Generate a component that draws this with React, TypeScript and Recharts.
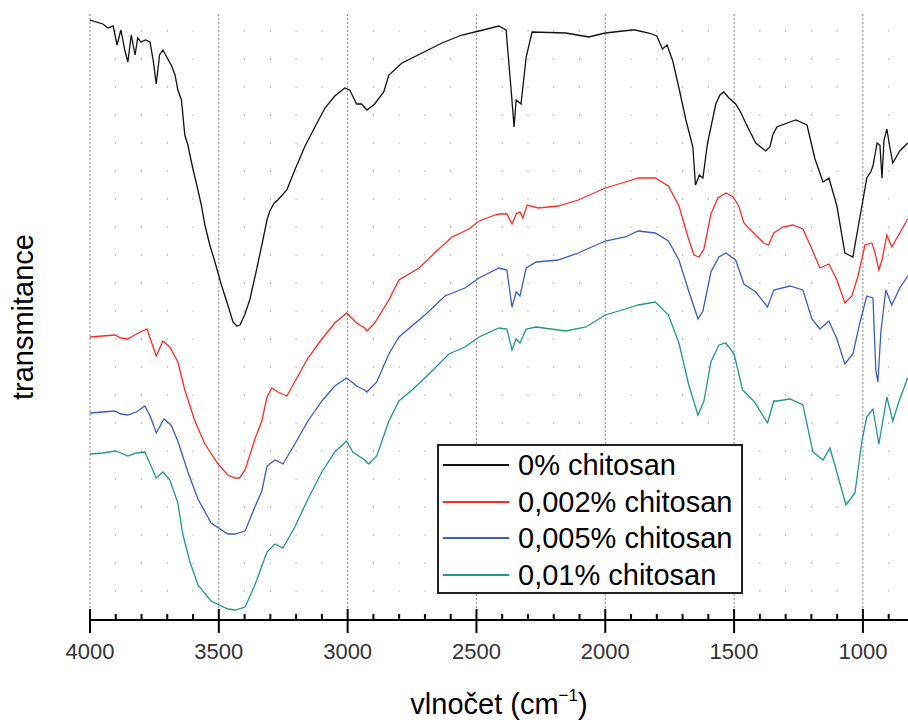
import { LineChart, Line, XAxis, YAxis, ReferenceLine } from "recharts";

// wavenumbers (cm-1) and relative transmittance (a.u.) per sample
const wn0 = [4000, 3950, 3930, 3910, 3895, 3880, 3865, 3853, 3840, 3825, 3815, 3802, 3785, 3767, 3755, 3743, 3730, 3717, 3700, 3683, 3670, 3659, 3645, 3632, 3620, 3608, 3595, 3581, 3568, 3554, 3535, 3515, 3490, 3465, 3445, 3430, 3418, 3400, 3380, 3352, 3333, 3313, 3302, 3285, 3271, 3236, 3205, 3167, 3127, 3088, 3050, 3011, 2992, 2965, 2946, 2925, 2895, 2860, 2840, 2789, 2711, 2634, 2556, 2490, 2413, 2385, 2366, 2354, 2346, 2327, 2307, 2284, 2153, 2064, 2000, 1897, 1884, 1831, 1800, 1778, 1760, 1738, 1714, 1687, 1660, 1650, 1645, 1635, 1621, 1603, 1571, 1555, 1540, 1520, 1494, 1475, 1455, 1416, 1377, 1361, 1350, 1334, 1283, 1260, 1217, 1186, 1155, 1132, 1101, 1070, 1055, 1039, 1004, 985, 970, 961, 945, 934, 926, 918, 907, 897, 884, 857, 826];
const t0 = [600, 596, 592, 594, 575, 590, 570, 558, 585, 565, 582, 578, 580, 578, 560, 536, 565, 570, 562, 554, 545, 530, 520, 485, 475, 460, 445, 430, 415, 395, 375, 358, 335, 315, 298, 294, 295, 305, 320, 352, 375, 400, 409, 417, 420, 430, 450, 473, 493, 512, 524, 532, 530, 516, 516, 510, 516, 528, 545, 557, 567, 577, 585, 589, 594, 590, 532, 493, 520, 516, 563, 588, 587, 583, 587, 590, 590, 587, 584, 571, 575, 559, 532, 500, 473, 435, 438, 445, 442, 477, 516, 525, 528, 522, 516, 508, 497, 477, 469, 473, 485, 493, 498, 500, 495, 461, 438, 442, 414, 367, 365, 363, 414, 442, 448, 454, 477, 475, 442, 480, 491, 475, 457, 469, 477];

const wn1 = [4000, 3950, 3903, 3880, 3853, 3820, 3779, 3763, 3743, 3717, 3690, 3659, 3632, 3593, 3554, 3503, 3465, 3437, 3420, 3398, 3360, 3333, 3313, 3294, 3271, 3236, 3197, 3154, 3100, 3050, 3004, 2965, 2934, 2925, 2895, 2840, 2801, 2723, 2646, 2595, 2529, 2490, 2428, 2413, 2382, 2362, 2346, 2331, 2320, 2303, 2260, 2183, 2105, 2000, 1922, 1872, 1806, 1755, 1714, 1679, 1656, 1636, 1617, 1590, 1563, 1532, 1504, 1482, 1462, 1424, 1385, 1366, 1346, 1311, 1272, 1233, 1198, 1167, 1132, 1101, 1070, 1043, 1019, 992, 965, 953, 938, 926, 907, 888, 857, 826];
const t1 = [283, 284, 285, 282, 281, 286, 291, 279, 264, 279, 273, 258, 230, 199, 176, 156, 145, 142, 142, 150, 181, 199, 223, 232, 228, 224, 242, 262, 281, 297, 307, 297, 292, 289, 297, 320, 340, 352, 371, 383, 391, 399, 405, 406, 406, 396, 406, 408, 402, 415, 412, 414, 420, 432, 438, 442, 442, 434, 414, 383, 365, 363, 371, 406, 422, 427, 423, 414, 397, 387, 377, 375, 387, 393, 395, 391, 371, 352, 356, 340, 317, 324, 344, 375, 377, 367, 350, 360, 385, 373, 387, 401];

const wn2 = [4000, 3950, 3903, 3880, 3853, 3820, 3787, 3765, 3743, 3713, 3686, 3659, 3620, 3581, 3530, 3465, 3437, 3398, 3360, 3333, 3313, 3282, 3251, 3205, 3154, 3100, 3050, 3004, 2965, 2934, 2925, 2887, 2840, 2801, 2700, 2622, 2545, 2490, 2413, 2382, 2362, 2346, 2331, 2307, 2268, 2183, 2105, 2000, 1922, 1872, 1806, 1755, 1714, 1675, 1640, 1621, 1590, 1559, 1532, 1494, 1462, 1416, 1370, 1346, 1283, 1233, 1198, 1167, 1132, 1101, 1070, 1039, 1012, 985, 961, 950, 942, 930, 911, 888, 857, 826];
const t2 = [207, 208, 209, 206, 205, 208, 214, 203, 187, 201, 195, 179, 148, 121, 97, 86, 86, 89, 113, 129, 154, 160, 156, 176, 199, 219, 234, 242, 234, 230, 228, 238, 266, 283, 305, 324, 332, 342, 352, 350, 313, 328, 324, 352, 358, 360, 367, 379, 383, 389, 387, 379, 360, 328, 301, 309, 348, 363, 367, 360, 336, 328, 313, 330, 334, 330, 301, 291, 299, 281, 256, 266, 297, 324, 322, 250, 238, 289, 330, 315, 332, 344];

const wn3 = [4000, 3950, 3903, 3880, 3853, 3820, 3787, 3763, 3743, 3717, 3690, 3659, 3640, 3612, 3581, 3530, 3465, 3437, 3398, 3360, 3333, 3313, 3282, 3251, 3205, 3154, 3100, 3050, 3004, 2980, 2934, 2918, 2887, 2840, 2801, 2750, 2684, 2607, 2545, 2490, 2413, 2382, 2362, 2346, 2331, 2307, 2268, 2153, 2075, 2000, 1922, 1872, 1806, 1755, 1714, 1675, 1640, 1617, 1590, 1559, 1532, 1500, 1467, 1424, 1370, 1346, 1334, 1283, 1233, 1194, 1155, 1128, 1097, 1066, 1031, 1004, 985, 961, 938, 907, 884, 857, 826];
const t3 = [166, 167, 169, 167, 164, 167, 168, 154, 142, 148, 140, 117, 86, 58, 35, 19, 11, 10, 13, 35, 54, 68, 76, 72, 93, 121, 148, 168, 179, 168, 160, 156, 164, 199, 219, 230, 246, 266, 273, 283, 292, 291, 270, 281, 277, 291, 293, 289, 293, 305, 311, 315, 318, 305, 277, 234, 205, 219, 258, 275, 277, 266, 230, 219, 197, 219, 219, 221, 215, 168, 160, 172, 144, 115, 127, 179, 203, 211, 176, 223, 199, 221, 242];

const seriesNames = ["0% chitosan", "0,002% chitosan", "0,005% chitosan", "0,01% chitosan"];
const seriesColors = ["#111111", "#ff2b2b", "#3b5cc2", "#1f978a"];
const majorTicks = [4000, 3500, 3000, 2500, 2000, 1500, 1000];
const allTicks = [4000, 3900, 3800, 3700, 3600, 3500, 3400, 3300, 3200, 3100, 3000, 2900, 2800, 2700, 2600, 2500, 2400, 2300, 2200, 2100, 2000, 1900, 1800, 1700, 1600, 1500, 1400, 1300, 1200, 1100, 1000, 900];

const W = 908;
const H = 724;
const TOP = 14;
const LEFT = 90;
const BOTTOM = 620;
const FONT = "'Liberation Sans', Arial, sans-serif";

const series = [
  { wn: wn0, t: t0 },
  { wn: wn1, t: t1 },
  { wn: wn2, t: t2 },
  { wn: wn3, t: t3 },
].map((s) => s.wn.map((w, i) => ({ wn: w, t: s.t[i] })));

function BottomTick(props: any) {
  const { x, payload } = props;
  const major = payload.value % 500 === 0;
  return (
    <g>
      <line x1={x} x2={x} y1={major ? BOTTOM - 11 : BOTTOM - 6} y2={major ? BOTTOM + 13 : BOTTOM} stroke="#000" strokeWidth={2} />
      {major && (
        <text x={x} y={659} textAnchor="middle" fontSize={22} fill="#333" fontFamily={FONT}>
          {payload.value}
        </text>
      )}
    </g>
  );
}

function TopTick(props: any) {
  const { x, payload } = props;
  const major = payload.value % 500 === 0;
  return <line x1={x} x2={x} y1={TOP} y2={major ? TOP + 12 : TOP + 6} stroke="#000" strokeWidth={2} />;
}

function XTitle(props: any) {
  const { viewBox } = props;
  const cx = viewBox.x + viewBox.width / 2;
  return (
    <text x={cx} y={714} textAnchor="middle" fontSize={29} fill="#000" fontFamily={FONT}>
      vlnočet (cm
      <tspan fontSize={17} dy={-13}>−1</tspan>
      <tspan dy={13}>)</tspan>
    </text>
  );
}

export default function App() {
  return (
    <div style={{ position: "absolute", left: 0, top: 0, width: W, height: H, background: "#fff", overflow: "hidden" }}>
      <LineChart width={W} height={H} margin={{ top: TOP, right: 0, bottom: 0, left: LEFT }}>
        {allTicks.map((v) => (
          <ReferenceLine
            key={v}
            x={v}
            stroke={majorTicks.includes(v) ? "#8a8a8a" : "#bdbdbd"}
            strokeWidth={1}
            strokeDasharray={majorTicks.includes(v) ? "2 2" : "2 26"}
          />
        ))}
        <XAxis
          dataKey="wn"
          type="number"
          domain={[825, 4000]}
          reversed
          allowDataOverflow
          ticks={allTicks}
          interval={0}
          height={H - BOTTOM}
          axisLine={{ stroke: "#000", strokeWidth: 2 }}
          tickLine={false}
          tick={<BottomTick />}
          label={<XTitle />}
        />
        <XAxis
          xAxisId="top"
          orientation="top"
          dataKey="wn"
          type="number"
          domain={[825, 4000]}
          reversed
          allowDataOverflow
          ticks={allTicks}
          interval={0}
          height={0}
          axisLine={{ stroke: "#000", strokeWidth: 2 }}
          tickLine={false}
          tick={<TopTick />}
        />
        <YAxis
          type="number"
          domain={[0, 606]}
          width={0}
          tick={false}
          tickLine={false}
          axisLine={{ stroke: "#000", strokeWidth: 2 }}
        />
        {series.map((d, i) => (
          <Line
            key={seriesNames[i]}
            data={d}
            dataKey="t"
            name={seriesNames[i]}
            stroke={seriesColors[i]}
            strokeWidth={1.3}
            dot={false}
            activeDot={false}
            type="linear"
            isAnimationActive={false}
          />
        ))}
      </LineChart>
      <div
        style={{
          position: "absolute",
          left: 23 - 110,
          top: 317 - 18,
          width: 220,
          height: 36,
          lineHeight: "36px",
          textAlign: "center",
          transform: "rotate(-90deg)",
          fontFamily: FONT,
          fontSize: 29,
          color: "#000",
        }}
      >
        transmitance
      </div>
      <div
        style={{
          position: "absolute",
          left: 437,
          top: 444,
          width: 302,
          height: 145,
          border: "2px solid #222",
          background: "#fff",
          fontFamily: FONT,
          fontSize: 29,
          color: "#000",
          paddingTop: 1,
        }}
      >
        {seriesNames.map((n, i) => (
          <div key={n} style={{ display: "flex", alignItems: "center", height: 36.5 }}>
            <div style={{ width: 66, height: 0, borderTop: `2px solid ${seriesColors[i]}`, marginLeft: 4, marginRight: 9 }} />
            <span style={{ lineHeight: "36px" }}>{n}</span>
          </div>
        ))}
      </div>
    </div>
  );
}
